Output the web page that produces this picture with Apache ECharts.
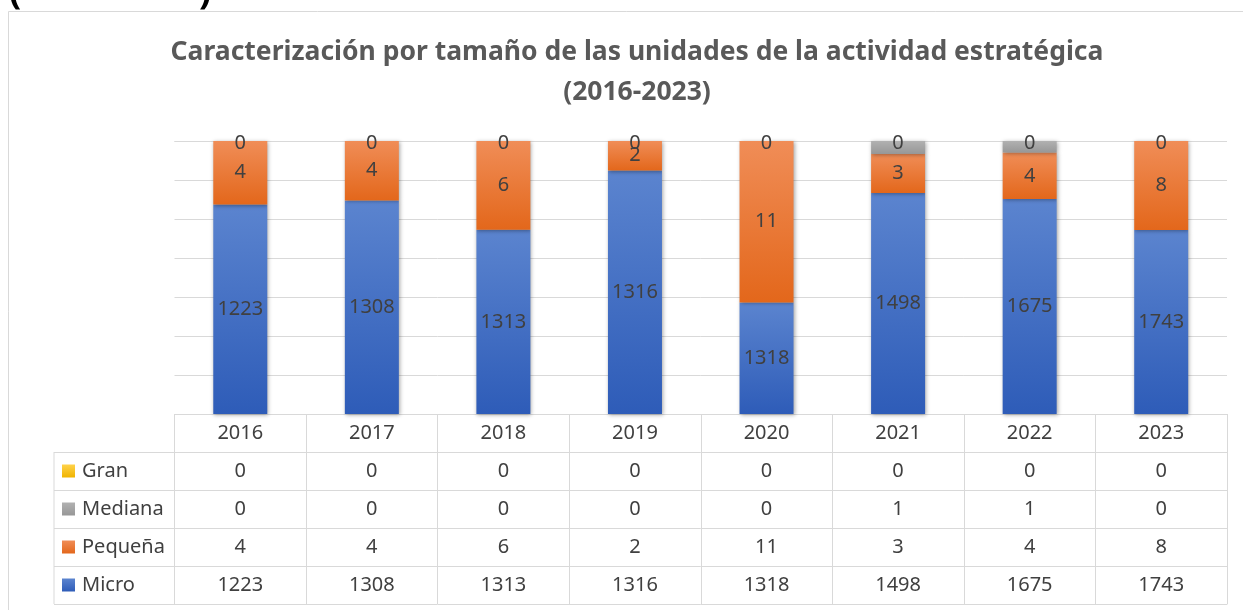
<!DOCTYPE html>
<html>
<head>
<meta charset="utf-8">
<script src="https://cdn.jsdelivr.net/npm/echarts@6/dist/echarts.min.js"></script>
<style>
  html, body { margin: 0; padding: 0; background: #fff; }
  #chart { width: 1243px; height: 610px; }
</style>
</head>
<body>
<div id="chart"></div>
<script>
// datos
const years = ['2016', '2017', '2018', '2019', '2020', '2021', '2022', '2023'];
const gran = [0, 0, 0, 0, 0, 0, 0, 0];
const mediana = [0, 0, 0, 0, 0, 1, 1, 0];
const pequena = [4, 4, 6, 2, 11, 3, 4, 8];
const micro = [1223, 1308, 1313, 1316, 1318, 1498, 1675, 1743];

// eje de 100% apilado, cortado en 98,6%
const yMin = 0.986;
const yMax = 1;

const totals = years.map((y, i) => gran[i] + mediana[i] + pequena[i] + micro[i]);
const share = (arr) => arr.map((v, i) => v / totals[i]);
const microShare = share(micro).map(v => v - yMin);

const font = 'Noto Sans';
const txt = '#404040';
const line = '#d9d9d9';

function grad(top, bottom) {
  return {
    type: 'linear', x: 0, y: 0, x2: 0, y2: 1,
    colorStops: [{ offset: 0, color: top }, { offset: 1, color: bottom }]
  };
}

const shadow = { shadowBlur: 4, shadowColor: 'rgba(0,0,0,0.35)', shadowOffsetX: 1, shadowOffsetY: 1 };
const lbl = { show: true, position: 'inside', color: txt, fontSize: 20, fontFamily: font };

// filas de la tabla de datos
const rows = [gran, mediana, pequena, micro];
const rowAxes = rows.map((row, k) => ({
  type: 'category',
  data: years,
  position: 'bottom',
  offset: 38 * (k + 1),
  axisLine: { show: true, lineStyle: { color: line } },
  axisTick: { show: false },
  splitLine: { show: false },
  axisLabel: {
    interval: 0, margin: 9, fontSize: 20, lineHeight: 20, color: txt, fontFamily: font,
    formatter: (v, i) => String(row[i])
  }
}));

const chart = echarts.init(document.getElementById('chart'));
chart.setOption({
  animation: false,
  backgroundColor: '#fff',
  title: {
    text: 'Caracterización por tamaño de las unidades de la actividad estratégica\n(2016-2023)',
    left: 632,
    textAlign: 'center',
    top: 27,
    textStyle: { fontFamily: font, fontSize: 26.5, fontWeight: 'bold', color: '#595959', lineHeight: 40 }
  },
  legend: {
    orient: 'vertical',
    left: 62,
    top: 461,
    padding: 0,
    itemWidth: 13,
    itemHeight: 13,
    itemGap: 18,
    icon: 'rect',
    data: ['Gran', 'Mediana', 'Pequeña', 'Micro'],
    textStyle: { fontSize: 20, lineHeight: 20, color: txt, fontFamily: font, padding: [0, 0, 0, 2] }
  },
  grid: { left: 174.5, right: 16, top: 141, bottom: 196 },
  xAxis: [{
    type: 'category',
    data: years,
    position: 'bottom',
    axisLine: { show: true, lineStyle: { color: line } },
    axisTick: { show: true, length: 190, lineStyle: { color: line } },
    axisLabel: { interval: 0, margin: 9, fontSize: 20, lineHeight: 20, color: txt, fontFamily: font }
  }].concat(rowAxes).concat([{
    type: 'category',
    data: years,
    position: 'bottom',
    offset: 190,
    axisLine: { show: true, lineStyle: { color: line } },
    axisTick: { show: false },
    axisLabel: { show: false }
  }]),
  yAxis: {
    type: 'value',
    min: 0,
    max: yMax - yMin,
    interval: 0.002,
    axisLine: { show: false },
    axisTick: { show: false },
    axisLabel: { show: false },
    splitLine: { lineStyle: { color: line, width: 1 } }
  },
  graphic: [
    { type: 'rect', shape: { x: 8.5, y: 11.5, width: 1400, height: 800 }, style: { fill: null, stroke: line, lineWidth: 1 }, silent: true, z: -10 },
    // pie del encabezado cortado por arriba
    { type: 'text', x: 9, y: 12, style: { text: '(', font: 'bold 36px "Noto Sans"', fill: '#000', verticalAlign: 'bottom' } },
    { type: 'text', x: 199, y: 12, style: { text: ')', font: 'bold 36px "Noto Sans"', fill: '#000', verticalAlign: 'bottom' } },
    { type: 'line', shape: { x1: 54, y1: 452, x2: 54, y2: 604 }, style: { stroke: line } },
    { type: 'line', shape: { x1: 54, y1: 452.5, x2: 175, y2: 452.5 }, style: { stroke: line } },
    { type: 'line', shape: { x1: 54, y1: 490.5, x2: 175, y2: 490.5 }, style: { stroke: line } },
    { type: 'line', shape: { x1: 54, y1: 528.5, x2: 175, y2: 528.5 }, style: { stroke: line } },
    { type: 'line', shape: { x1: 54, y1: 566.5, x2: 175, y2: 566.5 }, style: { stroke: line } },
    { type: 'line', shape: { x1: 54, y1: 604.5, x2: 175, y2: 604.5 }, style: { stroke: line } }
  ],
  series: [
    {
      name: 'Micro', type: 'bar', stack: 't', barWidth: 54,
      data: microShare,
      itemStyle: Object.assign({ color: grad('#5b84cf', '#2e5cb8') }, shadow),
      label: Object.assign({}, lbl, { formatter: p => String(micro[p.dataIndex]) })
    },
    {
      name: 'Pequeña', type: 'bar', stack: 't',
      data: share(pequena),
      itemStyle: Object.assign({ color: grad('#f08d57', '#e3671b') }, shadow),
      label: Object.assign({}, lbl, { formatter: p => String(pequena[p.dataIndex]) })
    },
    {
      name: 'Mediana', type: 'bar', stack: 't',
      data: share(mediana),
      itemStyle: Object.assign({ color: grad('#b1b1b1', '#979797') }, shadow),
      label: { show: false }
    },
    {
      name: 'Gran', type: 'bar', stack: 't', clip: false,
      data: share(gran),
      itemStyle: { color: grad('#ffd24a', '#f0b400') },
      label: Object.assign({}, lbl, { offset: [0, 2], formatter: p => String(gran[p.dataIndex]) })
    }
  ]
});
</script>
</body>
</html>
